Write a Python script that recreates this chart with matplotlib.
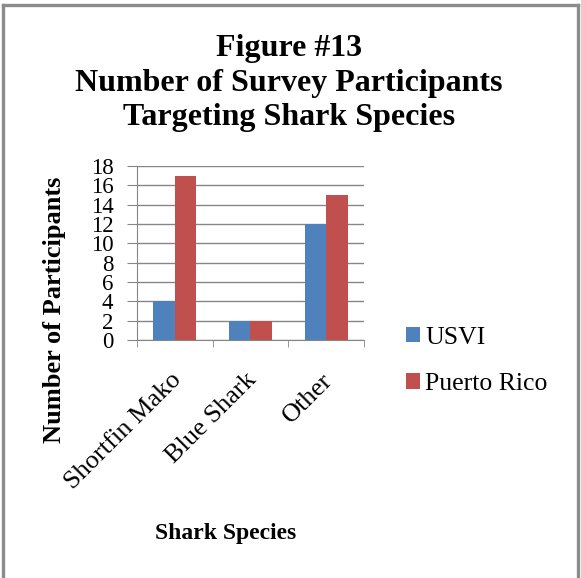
import matplotlib

matplotlib.use("Agg")
import matplotlib.pyplot as plt
import matplotlib.transforms as mtransforms
import numpy as np
from matplotlib.lines import Line2D
from matplotlib.patches import Patch

CATEGORIES = ["Shortfin Mako", "Blue Shark", "Other"]
USVI = [4, 2, 12]
PUERTO_RICO = [17, 2, 15]
SERIES = ["USVI", "Puerto Rico"]
COLORS = ["#4F81BD", "#C0504D"]
Y_TICKS = list(range(0, 19, 2))

plt.rcParams["font.family"] = ["Liberation Serif", "DejaVu Serif"]

fig = plt.figure(figsize=(5.81, 5.78), dpi=100)
ax = fig.add_axes([137 / 581, 1 - 340 / 578, 227 / 581, 174 / 578])

x = np.arange(len(CATEGORIES))
width = 0.285
ax.bar(x - width / 2, USVI, width, color=COLORS[0], zorder=3)
ax.bar(x + width / 2, PUERTO_RICO, width, color=COLORS[1], zorder=3)

ax.set_xlim(-0.5, len(CATEGORIES) - 0.5)
ax.set_ylim(0, 18)
ax.set_yticks(Y_TICKS)
ax.set_yticklabels([str(v) for v in Y_TICKS], fontsize=16.5)
ax.yaxis.grid(True, color="#868686", linewidth=1, zorder=0)
ax.tick_params(axis="y", length=7, color="#868686", pad=10)

ax.set_xticks(x)
ax.set_xticklabels(CATEGORIES, fontsize=19, rotation=45, ha="right", va="top", rotation_mode="anchor")
ax.tick_params(axis="x", which="major", length=0, pad=21)
shift = mtransforms.ScaledTranslation(-5 / 100, 0, fig.dpi_scale_trans)
for lbl in ax.get_xticklabels():
    lbl.set_transform(lbl.get_transform() + shift)
ax.set_xticks(np.arange(-0.5, len(CATEGORIES)), minor=True)
ax.tick_params(axis="x", which="minor", length=5, color="#868686")

for side in ["top", "right"]:
    ax.spines[side].set_visible(False)
for side in ["left", "bottom"]:
    ax.spines[side].set_color("#868686")

fig.text(0.497, 1 - 83 / 578, "Figure #13\nNumber of Survey Participants\nTargeting Shark Species",
         ha="center", va="center", fontsize=23, fontweight="bold", linespacing=1.26)
fig.text(55 / 581, 1 - 310 / 578, "Number of Participants", rotation=90,
         ha="center", va="center", fontsize=19, fontweight="bold")
fig.text(226 / 581, 1 - 534 / 578, "Shark Species", ha="center", va="center",
         fontsize=17, fontweight="bold")

handles = [Patch(facecolor=c, edgecolor="none") for c in COLORS]
fig.legend(handles, SERIES, loc="center left", bbox_to_anchor=(393 / 581, 1 - 361 / 578),
           frameon=False, fontsize=18.5, handlelength=0.55, handleheight=0.55,
           handletextpad=0.2, labelspacing=0.95, borderpad=0)

# grey frame around the chart
border = "#8c8c8c"
fig.add_artist(Line2D([3 / 581, 3 / 581], [0, 1 - 4.5 / 578], color=border, linewidth=2.4))
fig.add_artist(Line2D([3 / 581, 578 / 581], [1 - 4.5 / 578, 1 - 4.5 / 578], color=border, linewidth=2.4))
fig.add_artist(Line2D([578 / 581, 578 / 581], [0, 1 - 4.5 / 578], color=border, linewidth=2.4))

fig.savefig("out.png", dpi=100)
